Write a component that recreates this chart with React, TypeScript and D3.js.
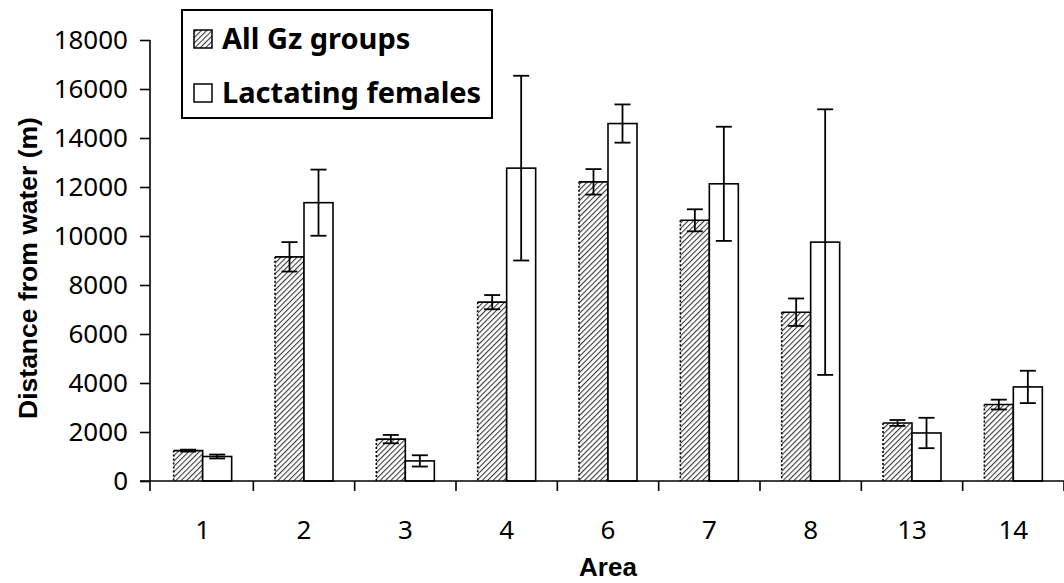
import React, { useEffect, useRef } from 'react';
import * as d3 from 'd3';

const areas = ['1', '2', '3', '4', '6', '7', '8', '13', '14'];
const allGz = [1240, 9150, 1710, 7300, 12210, 10640, 6890, 2370, 3120];
const allGzErr = [40, 600, 170, 290, 520, 450, 560, 120, 200];
const lactating = [1000, 11360, 820, 12770, 14590, 12130, 9750, 1960, 3840];
const lactatingErr = [80, 1350, 230, 3770, 780, 2330, 5420, 620, 660];
const yTicks = [0, 2000, 4000, 6000, 8000, 10000, 12000, 14000, 16000, 18000];
const seriesNames = ['All Gz groups', 'Lactating females'];

const App = () => {
  const ref = useRef<SVGSVGElement>(null);

  useEffect(() => {
    const svg = d3.select(ref.current);
    svg.selectAll('*').remove();

    const width = 1064, height = 583;
    const margin = { top: 40, right: 0, bottom: 102, left: 152 };
    const tickFont = '"Noto Sans", "DejaVu Sans", sans-serif';
    const titleFont = '"Liberation Sans", Arial, sans-serif';

    const defs = svg.append('defs');
    const pat = defs.append('pattern')
      .attr('id', 'hatch')
      .attr('patternUnits', 'userSpaceOnUse')
      .attr('width', 3.8)
      .attr('height', 3.8)
      .attr('patternTransform', 'rotate(45)');
    pat.append('rect').attr('width', 3.8).attr('height', 3.8).attr('fill', '#fff');
    pat.append('line')
      .attr('x1', 0).attr('y1', 0).attr('x2', 0).attr('y2', 3.8)
      .attr('stroke', '#3a3a3a').attr('stroke-width', 2.2);

    const x0 = d3.scaleBand().domain(areas).range([margin.left, width - margin.right]).padding(0);
    const bw = x0.bandwidth();
    const barW = 29;
    const x1 = d3.scaleBand().domain(seriesNames).range([(bw - 2 * barW) / 2, (bw + 2 * barW) / 2]);
    const y = d3.scaleLinear().domain([0, 18000]).range([height - margin.bottom, margin.top]);

    const rows = areas.map((a, i) => ({
      area: a,
      bars: [
        { s: seriesNames[0], v: allGz[i], e: allGzErr[i] },
        { s: seriesNames[1], v: lactating[i], e: lactatingErr[i] },
      ],
    }));

    // bars
    const g = svg.append('g');
    rows.forEach(r => {
      r.bars.forEach((b, j) => {
        const bx = (x0(r.area) as number) + (x1(b.s) as number);
        const top = y(b.v), base = y(0);
        if (j === 0) {
          g.append('rect').attr('x', bx).attr('y', top).attr('width', barW).attr('height', base - top)
            .attr('fill', 'url(#hatch)');
          g.append('path')
            .attr('d', `M${bx},${top}H${bx + barW}V${base}`)
            .attr('fill', 'none').attr('stroke', '#000').attr('stroke-width', 1.6);
          g.append('line').attr('x1', bx).attr('x2', bx).attr('y1', top).attr('y2', base)
            .attr('stroke', '#000').attr('stroke-width', 1.6).attr('stroke-dasharray', '2,2');
        } else {
          g.append('rect').attr('x', bx).attr('y', top).attr('width', barW).attr('height', base - top)
            .attr('fill', '#fff').attr('stroke', '#000').attr('stroke-width', 1.6);
        }
      });
    });

    // error bars
    rows.forEach(r => {
      r.bars.forEach(b => {
        const cx = (x0(r.area) as number) + (x1(b.s) as number) + barW / 2;
        const hi = y(b.v + b.e), lo = y(b.v - b.e);
        g.append('line').attr('x1', cx).attr('x2', cx).attr('y1', hi).attr('y2', lo)
          .attr('stroke', '#000').attr('stroke-width', 1.8);
        [hi, lo].forEach(yy => {
          g.append('line').attr('x1', cx - 8).attr('x2', cx + 8).attr('y1', yy).attr('y2', yy)
            .attr('stroke', '#000').attr('stroke-width', 1.8);
        });
      });
    });

    // y axis
    const yAxis = svg.append('g')
      .attr('transform', `translate(${margin.left - 2},0)`)
      .call(d3.axisLeft(y).tickValues(yTicks).tickSize(10).tickPadding(12).tickFormat(d3.format('d')));
    yAxis.select('.domain').attr('stroke', '#000').attr('stroke-width', 1.6)
      .attr('d', `M0,${margin.top}V${y(0) + 10}`);
    yAxis.selectAll('line').attr('stroke', '#000').attr('stroke-width', 1.6);
    yAxis.selectAll('text').style('font-family', tickFont).style('font-size', '26px').attr('fill', '#000');

    // x axis
    const xAxis = svg.append('g').attr('transform', `translate(0,${y(0)})`);
    xAxis.append('line').attr('x1', margin.left - 12).attr('x2', width).attr('y1', 0).attr('y2', 0)
      .attr('stroke', '#000').attr('stroke-width', 1.6);
    const bounds = areas.map(a => x0(a) as number).concat([(x0(areas[areas.length - 1]) as number) + bw]);
    xAxis.selectAll('.xt').data(bounds.slice(1)).join('line')
      .attr('x1', d => d).attr('x2', d => d).attr('y1', 0).attr('y2', 10)
      .attr('stroke', '#000').attr('stroke-width', 1.6);
    xAxis.selectAll('.xl').data(areas).join('text')
      .attr('x', d => (x0(d) as number) + bw / 2)
      .attr('y', 58)
      .attr('text-anchor', 'middle')
      .style('font-family', tickFont).style('font-size', '26px')
      .text(d => d);

    // axis titles
    svg.append('text')
      .attr('x', (margin.left + width) / 2)
      .attr('y', 576)
      .attr('text-anchor', 'middle')
      .style('font-family', titleFont).style('font-size', '26px').style('font-weight', 'bold')
      .text('Area');
    svg.append('text')
      .attr('transform', `translate(37,268) rotate(-90)`)
      .attr('text-anchor', 'middle')
      .style('font-family', titleFont).style('font-size', '26.5px').style('font-weight', 'bold')
      .text('Distance from water (m)');

    // legend
    const lg = svg.append('g');
    lg.append('rect').attr('x', 182).attr('y', 10).attr('width', 310).attr('height', 108)
      .attr('fill', '#fff').attr('stroke', '#000').attr('stroke-width', 2);
    const fills = ['url(#hatch)', '#fff'];
    seriesNames.forEach((s, i) => {
      const ry = 30 + i * 54;
      lg.append('rect').attr('x', 194).attr('y', ry).attr('width', 18).attr('height', 18)
        .attr('fill', fills[i]).attr('stroke', '#000').attr('stroke-width', 1.5);
      lg.append('text').attr('x', 222).attr('y', ry + 19)
        .style('font-family', tickFont).style('font-size', '29px').style('font-weight', 'bold')
        .text(s);
    });
  }, []);

  return (
    <svg
      ref={ref}
      width={1064}
      height={583}
      style={{ position: 'absolute', left: 0, top: 0, display: 'block', background: '#fff' }}
    />
  );
};

export default App;
